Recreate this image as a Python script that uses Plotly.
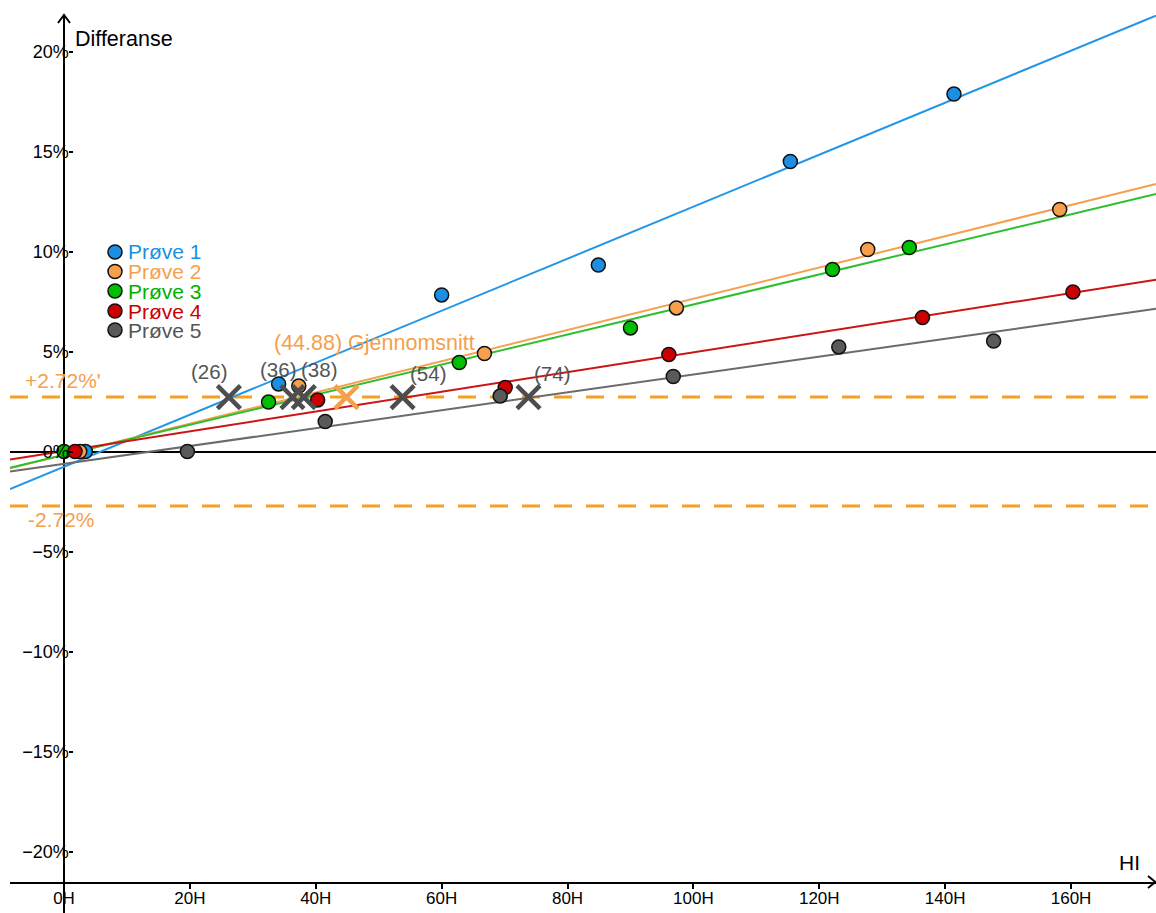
import plotly.graph_objects as go

# ---------------- data ----------------
series_names = ["Prøve 1", "Prøve 2", "Prøve 3", "Prøve 4", "Prøve 5"]

p1_x = [3.4, 34.1, 60.0, 84.9, 115.4, 141.4]
p1_y = [0.0, 3.38, 7.83, 9.32, 14.5, 17.87]
p2_x = [2.5, 37.3, 66.8, 97.3, 127.7, 158.2]
p2_y = [0.0, 3.27, 4.9, 7.18, 10.1, 12.1]
p3_x = [0.0, 32.5, 62.8, 90.0, 122.1, 134.3]
p3_y = [0.0, 2.47, 4.45, 6.18, 9.1, 10.2]
p4_x = [1.75, 40.3, 70.1, 96.1, 136.4, 160.3]
p4_y = [0.0, 2.58, 3.2, 4.85, 6.7, 7.98]
p5_x = [19.6, 41.5, 69.3, 96.8, 123.1, 147.7]
p5_y = [0.0, 1.5, 2.77, 3.75, 5.23, 5.52]

fit_intercepts = [-0.76, -0.17, -0.17, 0.02, -0.62]
fit_slopes = [0.130, 0.0781, 0.0752, 0.0494, 0.0447]

limit_value = 2.72
limit_labels = ["+2.72%'", "-2.72%"]
cross_x = [26.2, 36.3, 38.1, 53.8, 73.8]
cross_labels = ["(26)", "(36)", "(38)", "(54)", "(74)"]
mean_x = 44.88
mean_label = "(44.88) Gjennomsnitt"

x_tickvals = [0, 20, 40, 60, 80, 100, 120, 140, 160]
x_ticktext = ["0H", "20H", "40H", "60H", "80H", "100H", "120H", "140H", "160H"]
y_tickvals = [-20, -15, -10, -5, 0, 5, 10, 15, 20]
y_ticktext = ["\u221220%", "\u221215%", "\u221210%", "\u22125%", "0%", "5%", "10%", "15%", "20%"]
x_title = "HI"
y_title = "Differanse"

# ---------------- styles ----------------
dot_colors = ["#1A8FE3", "#F6A04D", "#00BF00", "#CC0000", "#595959"]
line_colors = ["#2196E8", "#F5A04F", "#2EBF2E", "#CC1414", "#6B6B6B"]
text_colors = ["#1A8FE3", "#F5A04C", "#00B000", "#CC0000", "#555555"]
orange = "#F5A01E"
orange_text = "#F5A04C"
grey_x = "#4D4D4D"
FONT = "Liberation Sans, Arial, sans-serif"

W, H = 1156, 913
ML, MR, MT, MB = 10, 0, 15, 31
X_RANGE = [-8.58, 173.5]
Y_RANGE = [-21.525, 21.825]
PW, PH = W - ML - MR, H - MT - MB


def px_x(p):
    return (p - ML) / PW


def px_y(p):
    return (H - MB - p) / PH


x0p = (0 - X_RANGE[0]) / (X_RANGE[1] - X_RANGE[0])

xs_all = [p1_x, p2_x, p3_x, p4_x, p5_x]
ys_all = [p1_y, p2_y, p3_y, p4_y, p5_y]

fig = go.Figure()

# fitted lines
for i in range(5):
    lx = [X_RANGE[0], X_RANGE[1]]
    ly = [fit_intercepts[i] + fit_slopes[i] * v for v in lx]
    fig.add_trace(go.Scatter(x=lx, y=ly, mode="lines",
                             line=dict(color=line_colors[i], width=2),
                             hoverinfo="skip", showlegend=False))

# data points
for i in range(5):
    fig.add_trace(go.Scatter(x=xs_all[i], y=ys_all[i], mode="markers",
                             name=series_names[i], showlegend=False,
                             marker=dict(size=14, color=dot_colors[i],
                                         line=dict(color="#111111", width=1.5)),
                             cliponaxis=False))

# crossing markers
fig.add_trace(go.Scatter(x=cross_x, y=[limit_value] * len(cross_x), mode="markers",
                         marker=dict(symbol="x-thin", size=23,
                                     line=dict(color=grey_x, width=4.5)),
                         showlegend=False, hoverinfo="skip"))
fig.add_trace(go.Scatter(x=[mean_x], y=[limit_value], mode="markers",
                         marker=dict(symbol="x-thin", size=23,
                                     line=dict(color="#F5A04C", width=4.5)),
                         showlegend=False, hoverinfo="skip"))

shapes = []
# dashed limit lines
for v in [limit_value, -limit_value]:
    shapes.append(dict(type="line", xref="paper", yref="y", x0=0, x1=1, y0=v, y1=v,
                       line=dict(color=orange, width=3, dash="18px,14px"), layer="below"))

# y-axis extension below the x-axis and arrowheads
shapes.append(dict(type="line", xref="paper", yref="paper", x0=x0p, x1=x0p,
                   y0=0, y1=px_y(913), line=dict(color="black", width=2)))
dx, dy = 6 / PW, 8 / PH
shapes.append(dict(type="path", xref="paper", yref="paper",
                   path=f"M {x0p - dx} {1 - dy} L {x0p} 1 L {x0p + dx} {1 - dy}",
                   line=dict(color="black", width=2)))
dx2, dy2 = 8 / PW, 6 / PH
shapes.append(dict(type="path", xref="paper", yref="paper",
                   path=f"M {1 - dx2} {dy2} L 0.9995 0 L {1 - dx2} {-dy2}",
                   line=dict(color="black", width=2)))

annotations = []
# custom legend
legend_rows_px = [252, 271.5, 291, 311, 330]
for i in range(5):
    cy = legend_rows_px[i]
    shapes.append(dict(type="circle", xref="paper", yref="paper",
                       x0=px_x(108), x1=px_x(122), y0=px_y(cy + 7), y1=px_y(cy - 7),
                       fillcolor=dot_colors[i], line=dict(color="#111111", width=1.5)))
    annotations.append(dict(xref="paper", yref="paper", x=px_x(126), y=px_y(cy),
                            xanchor="left", yanchor="middle", showarrow=False,
                            text=series_names[i],
                            font=dict(family=FONT, size=21, color=text_colors[i])))

# axis titles
annotations.append(dict(xref="paper", yref="paper", x=px_x(73), y=px_y(39),
                        xanchor="left", yanchor="middle", showarrow=False, text=y_title,
                        font=dict(family=FONT, size=21.5, color="black")))
annotations.append(dict(xref="paper", yref="paper", x=px_x(1142), y=px_y(862),
                        xanchor="right", yanchor="middle", showarrow=False, text=x_title,
                        font=dict(family=FONT, size=21, color="black")))

# limit labels
annotations.append(dict(xref="paper", yref="y", x=px_x(23), y=limit_value, yshift=17,
                        xanchor="left", yanchor="middle", showarrow=False,
                        text=limit_labels[0], font=dict(family=FONT, size=21, color=orange_text)))
annotations.append(dict(xref="paper", yref="y", x=px_x(26), y=-limit_value, yshift=-14,
                        xanchor="left", yanchor="middle", showarrow=False,
                        text=limit_labels[1], font=dict(family=FONT, size=21, color=orange_text)))

# crossing labels
label_shifts = [(-20, 26), (-14, 28), (15, 28), (25, 24), (24, 24)]
for i in range(len(cross_x)):
    annotations.append(dict(xref="x", yref="y", x=cross_x[i], y=limit_value,
                            xshift=label_shifts[i][0], yshift=label_shifts[i][1],
                            xanchor="center", yanchor="middle", showarrow=False,
                            text=cross_labels[i],
                            font=dict(family=FONT, size=20.5, color="#555555")))
annotations.append(dict(xref="x", yref="y", x=mean_x, y=limit_value, xshift=28, yshift=54,
                        xanchor="center", yanchor="middle", showarrow=False,
                        text=mean_label, font=dict(family=FONT, size=21.5, color=orange_text)))

yaxis_position = (ML + x0p * PW) / W

fig.update_layout(
    width=W, height=H,
    margin=dict(l=ML, r=MR, t=MT, b=MB, pad=0),
    paper_bgcolor="white", plot_bgcolor="white",
    showlegend=False,
    font=dict(family=FONT, size=18, color="black"),
    shapes=shapes, annotations=annotations,
    xaxis=dict(range=X_RANGE, tickvals=x_tickvals, ticktext=x_ticktext,
               showgrid=False, zeroline=True, zerolinecolor="black", zerolinewidth=2,
               showline=True, linecolor="black", linewidth=2,
               ticks="outside", ticklen=5, tickwidth=1.5, tickcolor="black",
               ticklabelstandoff=-5,
               tickfont=dict(family=FONT, size=17, color="black"),
               automargin=False, fixedrange=True),
    yaxis=dict(range=Y_RANGE, tickvals=y_tickvals, ticktext=y_ticktext,
               anchor="free", position=yaxis_position,
               showgrid=False, zeroline=True, zerolinecolor="black", zerolinewidth=2,
               showline=False,
               ticks="outside", ticklen=4, tickwidth=1.5, tickcolor="black",
               ticklabelstandoff=-3,
               tickfont=dict(family=FONT, size=18, color="black"),
               automargin=False, fixedrange=True),
)

fig.write_html("out.html", config={"displayModeBar": False},
               post_script="document.body.style.margin='0';document.body.style.overflow='hidden';")
